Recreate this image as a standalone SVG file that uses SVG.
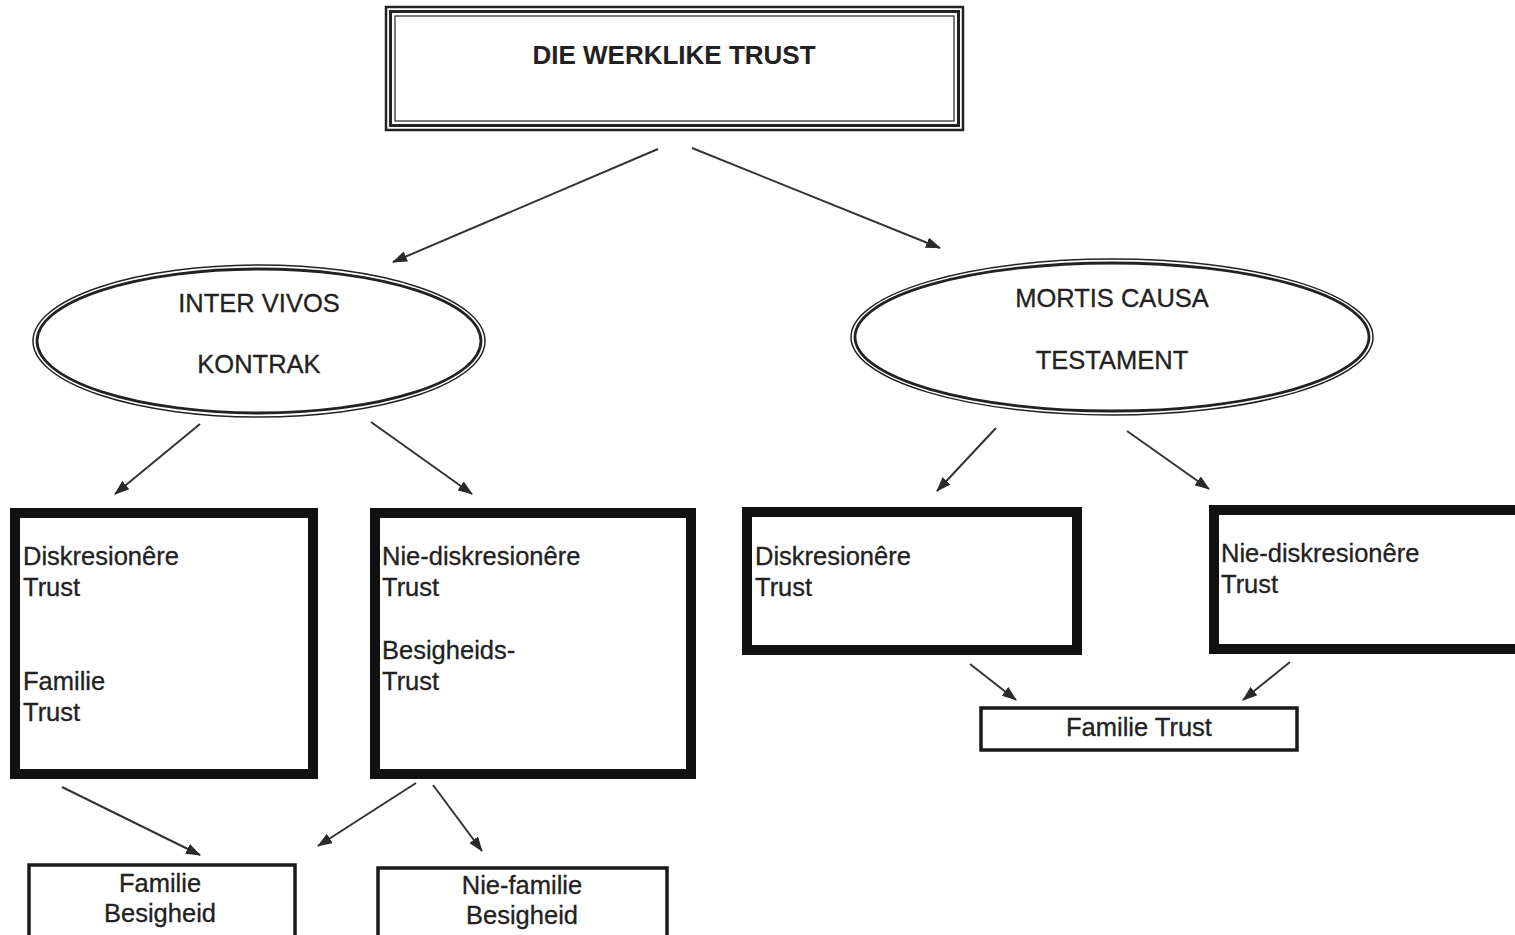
<svg xmlns="http://www.w3.org/2000/svg" width="1515" height="935" viewBox="0 0 1515 935">
  <defs>
    <marker id="arrow" viewBox="0 0 15 11" refX="14" refY="5.5" markerWidth="15" markerHeight="11" markerUnits="userSpaceOnUse" orient="auto">
      <path d="M0,0 L15,5.5 L0,11 Z" fill="#2a2a2a"/>
    </marker>
  </defs>
  <style>
    text { font-family: "Liberation Sans", Arial, sans-serif; fill: #222; font-size: 25.5px; stroke: #222; stroke-width: 0.3; }
    .title { font-weight: bold; font-size: 26px; text-anchor: middle; stroke-width: 0; }
    .mid { text-anchor: middle; }
    .frame { fill: none; stroke: #222; }
    .heavy { fill: #fff; stroke: #111; stroke-width: 10; }
    .light { fill: #fff; stroke: #1a1a1a; stroke-width: 3.5; }
    .edge { stroke: #333; stroke-width: 2; fill: none; marker-end: url(#arrow); }
  </style>
  <rect width="1515" height="935" fill="#fff"/>

  <!-- root: triple-ruled frame -->
  <g id="die-werklike-trust">
    <rect x="386" y="7" width="577" height="123" class="frame" stroke-width="2.5" fill="#fff"/>
    <rect x="390.5" y="11.5" width="568" height="114" class="frame" stroke-width="3"/>
    <rect x="395" y="16" width="559" height="105" class="frame" stroke-width="1.2"/>
    <text x="674" y="64" class="title">DIE WERKLIKE TRUST</text>
  </g>

  <!-- double-ruled ellipses -->
  <g id="inter-vivos">
    <ellipse cx="259" cy="341" rx="226" ry="76" class="frame" stroke-width="1.5" fill="#fff"/>
    <ellipse cx="259" cy="341" rx="222" ry="72" class="frame" stroke-width="2.8"/>
    <text x="259" y="312" class="mid">INTER VIVOS</text>
    <text x="259" y="373" class="mid">KONTRAK</text>
  </g>
  <g id="mortis-causa">
    <ellipse cx="1112" cy="337" rx="261" ry="78" class="frame" stroke-width="1.5" fill="#fff"/>
    <ellipse cx="1112" cy="337" rx="257" ry="74" class="frame" stroke-width="2.8"/>
    <text x="1112" y="307" class="mid">MORTIS CAUSA</text>
    <text x="1112" y="369" class="mid">TESTAMENT</text>
  </g>

  <!-- heavy boxes -->
  <g id="iv-diskresioner">
    <rect x="15" y="513" width="298" height="261" class="heavy"/>
    <text x="23" y="565">Diskresionêre</text>
    <text x="23" y="596">Trust</text>
    <text x="23" y="690">Familie</text>
    <text x="23" y="721">Trust</text>
  </g>
  <g id="iv-nie-diskresioner">
    <rect x="375" y="513" width="316" height="261" class="heavy"/>
    <text x="382" y="565">Nie-diskresionêre</text>
    <text x="382" y="596">Trust</text>
    <text x="382" y="659">Besigheids-</text>
    <text x="382" y="690">Trust</text>
  </g>
  <g id="mc-diskresioner">
    <rect x="747" y="512" width="330" height="138" class="heavy"/>
    <text x="755" y="565">Diskresionêre</text>
    <text x="755" y="596">Trust</text>
  </g>
  <g id="mc-nie-diskresioner">
    <rect x="1214" y="510" width="320" height="139" class="heavy"/>
    <text x="1221" y="562">Nie-diskresionêre</text>
    <text x="1221" y="593">Trust</text>
  </g>

  <!-- light boxes -->
  <g id="familie-trust">
    <rect x="981" y="708" width="316" height="42" class="light"/>
    <text x="1139" y="736" class="mid">Familie Trust</text>
  </g>
  <g id="familie-besigheid">
    <rect x="29" y="865" width="266" height="80" class="light"/>
    <text x="160" y="892" class="mid">Familie</text>
    <text x="160" y="922" class="mid">Besigheid</text>
  </g>
  <g id="nie-familie-besigheid">
    <rect x="378" y="868" width="289" height="80" class="light"/>
    <text x="522" y="894" class="mid">Nie-familie</text>
    <text x="522" y="924" class="mid">Besigheid</text>
  </g>

  <!-- connectors -->
  <g id="connectors">
    <line x1="658" y1="149" x2="393" y2="262" class="edge"/>
    <line x1="692" y1="148" x2="940" y2="248" class="edge"/>
    <line x1="200" y1="424" x2="115" y2="494" class="edge"/>
    <line x1="371" y1="422" x2="472" y2="494" class="edge"/>
    <line x1="996" y1="428" x2="937" y2="491" class="edge"/>
    <line x1="1127" y1="431" x2="1209" y2="489" class="edge"/>
    <line x1="970" y1="664" x2="1016" y2="700" class="edge"/>
    <line x1="1290" y1="662" x2="1243" y2="700" class="edge"/>
    <line x1="62" y1="787" x2="200" y2="855" class="edge"/>
    <line x1="416" y1="783" x2="318" y2="846" class="edge"/>
    <line x1="433" y1="785" x2="482" y2="851" class="edge"/>
  </g>
</svg>
